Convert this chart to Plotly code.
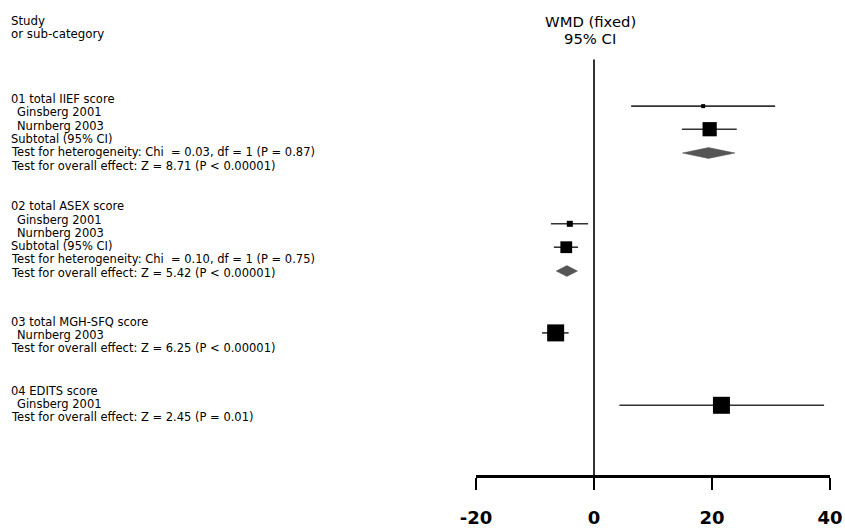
import math
import plotly.graph_objects as go

# ---------------- data ----------------
study_names = ["Ginsberg 2001", "Nurnberg 2003", "Ginsberg 2001", "Nurnberg 2003",
               "Nurnberg 2003", "Ginsberg 2001"]
study_group = [0, 0, 1, 1, 2, 3]
wmd = [18.5, 19.6, -4.1, -4.7, -6.5, 21.6]
ci_lo = [6.3, 14.9, -7.3, -6.8, -8.8, 4.3]
ci_hi = [30.7, 24.2, -1.0, -2.7, -4.3, 39.0]
box_weight = [5.5, 70.0, 12.5, 48.0, 100.0, 100.0]   # relative box area (%)

sub_group = [0, 1]
sub_wmd = [19.4, -4.6]
sub_lo = [15.0, -6.4]
sub_hi = [23.9, -2.8]

group_titles = ["01 total IIEF score", "02 total ASEX score",
                "03 total MGH-SFQ score", "04 EDITS score"]
het_text = ["Test for heterogeneity: Chi\u00a0 = 0.03, df = 1 (P = 0.87)",
            "Test for heterogeneity: Chi\u00a0 = 0.10, df = 1 (P = 0.75)", None, None]
overall_text = ["Test for overall effect: Z = 8.71 (P < 0.00001)",
                "Test for overall effect: Z = 5.42 (P < 0.00001)",
                "Test for overall effect: Z = 6.25 (P < 0.00001)",
                "Test for overall effect: Z = 2.45 (P = 0.01)"]

tick_vals = [-20, 0, 20, 40]
tick_text = ["-20", "0", "20", "40"]

# ---------------- layout helpers ----------------
W, H = 845, 528
ML, MR, MT, MB = 476, 15, 0, 49
PLOT_W = W - ML - MR
PLOT_H = H - MT - MB

study_row_y = [107, 130.3, 225.7, 249.3, 335.7, 408.7]
sub_row_y = [154.3, 273.3]
block_top = [100, 208, 324.5, 394]
LINE = 13.4
FONT = "DejaVu Sans"
TXT = "#000000"
BODY = 11.5


def px_x(px):
    return (px - ML) / PLOT_W


fig = go.Figure()

# CI whiskers
lx, ly = [], []
for lo, hi, y in zip(ci_lo, ci_hi, study_row_y):
    lx += [lo, hi, None]
    ly += [y, y, None]
fig.add_trace(go.Scatter(x=lx, y=ly, mode="lines",
                         line=dict(color="#333333", width=1.6),
                         hoverinfo="skip", showlegend=False))

# squares
sizes = [17.0 * math.sqrt(w / 100.0) for w in box_weight]
fig.add_trace(go.Scatter(x=wmd, y=study_row_y, mode="markers",
                         marker=dict(symbol="square", size=sizes, color="#000000",
                                     opacity=1, line=dict(width=0)),
                         text=study_names, showlegend=False))

# subtotal diamonds
for m, lo, hi, y in zip(sub_wmd, sub_lo, sub_hi, sub_row_y):
    h = 5.5
    fig.add_trace(go.Scatter(x=[lo, m, hi, m, lo], y=[y, y - h, y, y + h, y],
                             mode="lines", fill="toself", fillcolor="#555555",
                             line=dict(color="#555555", width=0.5),
                             hoverinfo="skip", showlegend=False))

# line of no effect
fig.add_shape(type="line", xref="x", yref="y", x0=0, x1=0, y0=60, y1=PLOT_H,
              line=dict(color="#333333", width=2))

# ---------------- text ----------------
ann = []


def add_text(s, x_px, y, size=BODY, anchor="left"):
    ann.append(dict(text=s, xref="paper", yref="y", x=px_x(x_px), y=y,
                    xanchor=anchor, yanchor="middle", showarrow=False,
                    borderpad=0,
                    font=dict(family=FONT, size=size, color=TXT)))


add_text("Study", 10, 20.7, 11.8)
add_text("or sub-category", 10, 34.5, 11.8)
add_text("WMD (fixed)", 590, 21.7, 14.8, "center")
add_text("95% CI", 590, 39, 14.8, "center")

for g, title in enumerate(group_titles):
    y = block_top[g]
    add_text(title, 10, y)
    for name, sg in zip(study_names, study_group):
        if sg == g:
            y += LINE
            add_text(name, 16, y)
    if g in sub_group:
        y += LINE
        add_text("Subtotal (95% CI)", 10, y)
    if het_text[g]:
        y += LINE
        add_text(het_text[g], 10, y)
    y += LINE
    add_text(overall_text[g], 10, y)

fig.update_layout(
    width=W, height=H, autosize=False,
    margin=dict(l=ML, r=MR, t=MT, b=MB, pad=0),
    paper_bgcolor="white", plot_bgcolor="white",
    annotations=ann,
    xaxis=dict(range=[-20, 40], showgrid=False, zeroline=False,
               showline=True, linecolor="black", linewidth=3,
               ticks="outside", ticklen=12, tickwidth=2, tickcolor="black",
               tickvals=tick_vals, ticktext=tick_text,
               tickfont=dict(family=FONT, size=18, color="black", weight="bold"),
               ticklabelstandoff=12, fixedrange=True),
    yaxis=dict(range=[PLOT_H, 0], visible=False, fixedrange=True),
)

fig.write_html("out.html",
               config={"displayModeBar": False},
               post_script="document.body.style.margin='0';"
                           "document.body.style.overflow='hidden';")
